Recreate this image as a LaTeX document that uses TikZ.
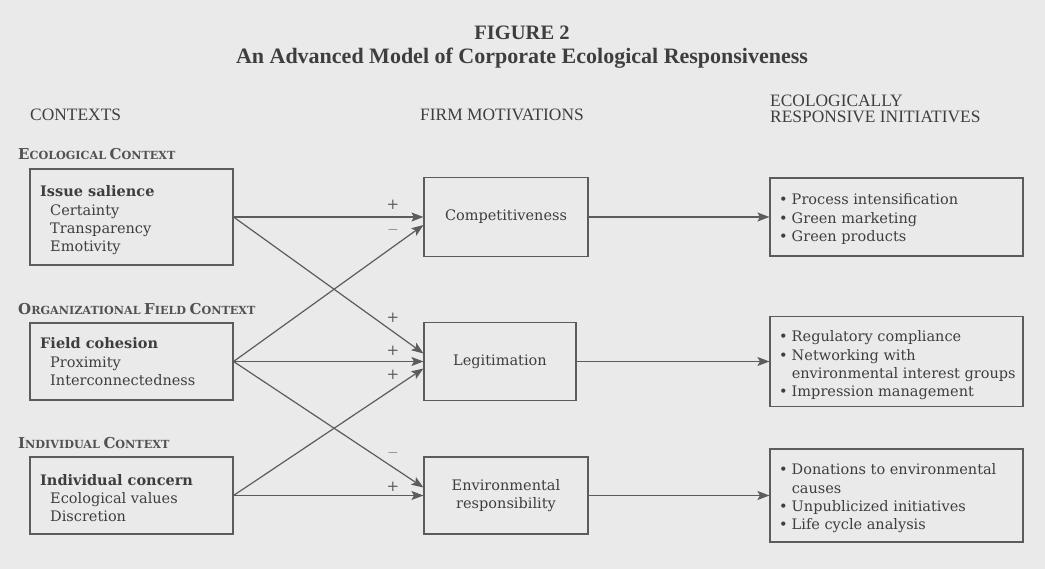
\documentclass[tikz,border=0pt]{standalone}
\usepackage{fontspec}
\setmainfont{DejaVu Serif}
\newfontfamily\headfont{Liberation Serif}
\usetikzlibrary{arrows.meta}
\definecolor{bg}{RGB}{234,234,234}
\definecolor{ln}{RGB}{92,92,92}
\definecolor{tx}{RGB}{62,62,62}
\newcommand\fsc[2]{{\fontsize{15}{15}\selectfont #1}{\fontsize{11.2}{12}\selectfont #2}}
\begin{document}
\begin{tikzpicture}[x=1pt,y=-1pt,
  bodyfont/.style={font=\fontsize{14.5}{18.3}\selectfont, text=tx},
  box/.style={draw=ln, line width=1.1pt, inner sep=0pt},
  txt/.style={bodyfont, inner sep=0pt, anchor=base west},
  link/.style={draw=ln, line width=1.2pt, -{Stealth[length=12pt,width=9pt,inset=2.5pt]}},
  sign/.style={font=\fontsize{15}{15}\selectfont, text=tx!85, inner sep=0pt},
  colhead/.style={font=\headfont\fontsize{17.4}{15.5}\selectfont, text=tx, inner sep=0pt, anchor=base west, align=left},
  subhead/.style={font=\bfseries, text=tx!90, inner sep=0pt, anchor=base west}]
\fill[bg] (0,0) rectangle (1045,569);
\useasboundingbox (0,0) rectangle (1045,569);
% titles
\node[font=\headfont\bfseries\fontsize{20.5}{22}\selectfont, text=tx, inner sep=0pt, anchor=base] (t1) at (522,40) {FIGURE 2};
\node[font=\headfont\bfseries\fontsize{22}{22}\selectfont, text=tx, inner sep=0pt, anchor=base] (t2) at (522,64) {An Advanced Model of Corporate Ecological Responsiveness};
% column headers
\node[colhead] (h1) at (30,121) {CONTEXTS};
\node[colhead] (h2) at (420,121) {FIRM MOTIVATIONS};
\node[colhead] (h3) at (770,107) {ECOLOGICALLY};
\node[colhead] (h4) at (770,123) {RESPONSIVE INITIATIVES};
% sub headers
\node[subhead] (s1) at (18,160) {\fsc{E}{COLOGICAL} \fsc{C}{ONTEXT}};
\node[subhead] (s2) at (18,315) {\fsc{O}{RGANIZATIONAL} \fsc{F}{IELD} \fsc{C}{ONTEXT}};
\node[subhead] (s3) at (18,449) {\fsc{I}{NDIVIDUAL} \fsc{C}{ONTEXT}};
% left boxes
\node[box, minimum width=203pt, minimum height=96pt] (L1) at (131.5,217) {};
\node[box, minimum width=203pt, minimum height=77pt] (L2) at (131.5,361.5) {};
\node[box, minimum width=203pt, minimum height=77pt] (L3) at (131.5,495.5) {};
\node[txt] (L1t) at (40,197) {\begin{tabular}[t]{@{}l@{}}\textbf{Issue salience}\\\hspace*{10pt}Certainty\\\hspace*{10pt}Transparency\\\hspace*{10pt}Emotivity\end{tabular}};
\node[txt] (L2t) at (40,349) {\begin{tabular}[t]{@{}l@{}}\textbf{Field cohesion}\\\hspace*{10pt}Proximity\\\hspace*{10pt}Interconnectedness\end{tabular}};
\node[txt] (L3t) at (40,485) {\begin{tabular}[t]{@{}l@{}}\textbf{Individual concern}\\\hspace*{10pt}Ecological values\\\hspace*{10pt}Discretion\end{tabular}};
% middle boxes
\node[box, bodyfont, minimum width=164pt, minimum height=79pt] (M1) at (506,217) {Competitiveness};
\node[box, bodyfont, minimum width=152pt, minimum height=78pt] (M2) at (500,361.5) {Legitimation};
\node[box, bodyfont, minimum width=164pt, minimum height=77pt, align=center] (M3) at (506,495.5) {Environmental\\responsibility};
% right boxes
\node[box, minimum width=253pt, minimum height=78pt] (R1) at (896.5,217) {};
\node[box, minimum width=253pt, minimum height=90pt] (R2) at (896.5,361.5) {};
\node[box, minimum width=253pt, minimum height=93pt] (R3) at (896.5,495.5) {};
\node[txt] (R1t) at (779,205) {\begin{tabular}[t]{@{}l@{\hspace{4pt}}l@{}}\textbullet&Process intensification\\\textbullet&Green marketing\\\textbullet&Green products\end{tabular}};
\node[txt] (R2t) at (779,342) {\begin{tabular}[t]{@{}l@{\hspace{4pt}}l@{}}\textbullet&Regulatory compliance\\\textbullet&Networking with\\&environmental interest groups\\\textbullet&Impression management\end{tabular}};
\node[txt] (R3t) at (779,475) {\begin{tabular}[t]{@{}l@{\hspace{4pt}}l@{}}\textbullet&Donations to environmental\\&causes\\\textbullet&Unpublicized initiatives\\\textbullet&Life cycle analysis\end{tabular}};
% connectors
\draw[link] (L1.east) -- (M1.west);
\draw[link] (L1.east) -- ([yshift=8pt]M2.west);
\draw[link] (L2.east) -- ([yshift=-8pt]M1.west);
\draw[link] (L2.east) -- (M2.west);
\draw[link] (L2.east) -- ([yshift=8pt]M3.west);
\draw[link] (L3.east) -- ([yshift=-7pt]M2.west);
\draw[link] (L3.east) -- (M3.west);
\draw[link] (M1.east) -- (R1.west);
\draw[link] (M2.east) -- (R2.west);
\draw[link] (M3.east) -- (R3.west);
% signs
\node[sign] (p1) at (393,205) {+};
\node[sign] (p2) at (393,230) {$-$};
\node[sign] (p3) at (393,318) {+};
\node[sign] (p4) at (393,351) {+};
\node[sign] (p5) at (393,375) {+};
\node[sign] (p6) at (393,453) {$-$};
\node[sign] (p7) at (393,487) {+};
\end{tikzpicture}
\end{document}
